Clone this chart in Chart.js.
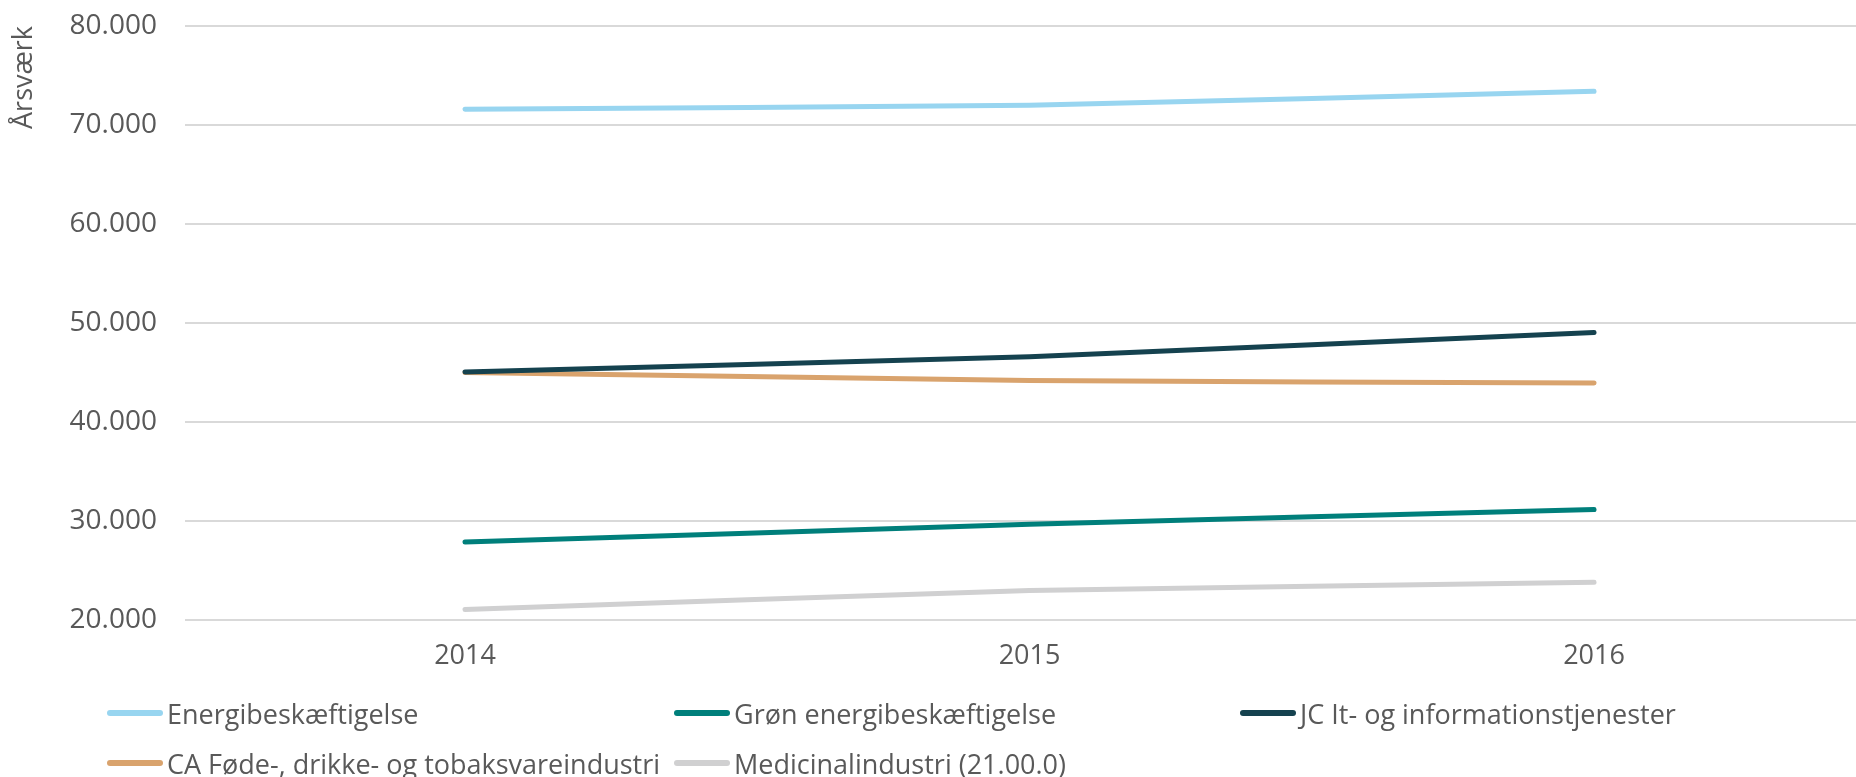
<!DOCTYPE html>
<html>
<head>
<meta charset="utf-8">
<script src="https://cdn.jsdelivr.net/npm/chart.js@4"></script>
<style>
  html, body { margin: 0; padding: 0; background: #fff; overflow: hidden; }
  #wrap { position: relative; width: 1856px; height: 777px; }
  #legend { position: absolute; left: 0; top: 0; width: 1856px; height: 777px; pointer-events: none;
            font-family: "Open Sans", sans-serif; font-size: 27px; color: #595959; }
  .item { position: absolute; display: flex; align-items: center; white-space: nowrap; }
  .item span.sw { display: inline-block; width: 56px; height: 6px; border-radius: 3px; margin-right: 4px; }
</style>
</head>
<body>
<div id="wrap">
  <canvas id="linje" width="1856" height="777"></canvas>
  <div id="legend"></div>
</div>
<script>
var years = [2014, 2015, 2016];
var yTicks = [20000, 30000, 40000, 50000, 60000, 70000, 80000];
var seriesNames = ["Energibeskæftigelse", "Grøn energibeskæftigelse", "JC It- og informationstjenester",
                   "CA Føde-, drikke- og tobaksvareindustri", "Medicinalindustri (21.00.0)"];
var energi    = [71600, 72000, 73400];
var groen     = [27870, 29660, 31160];
var itJC      = [45050, 46600, 49050];
var foedeCA   = [45000, 44200, 43930];
var medicinal = [21050, 22970, 23810];
var colors = ["#98d5f0", "#007f7b", "#15424f", "#d9a36d", "#d0d0d1"];

// legend grid: column / row of each series
var legendPos = [[107, 713], [674, 713], [1240, 713], [107, 763], [674, 763]];

function pts(vals) {
  return years.map(function (yr, i) { return { x: yr, y: vals[i] }; });
}

var allValues = [energi, groen, itJC, foedeCA, medicinal];
var datasets = seriesNames.map(function (n, i) {
  return {
    label: n,
    data: pts(allValues[i]),
    borderColor: colors[i],
    backgroundColor: colors[i],
    borderWidth: 5,
    borderCapStyle: 'round',
    pointRadius: 0,
    tension: 0.15,
    order: i === 1 ? 5 : i
  };
});

var textColor = "#595959";
var font = { family: "'Open Sans', sans-serif", size: 28 };

new Chart(document.getElementById("linje"), {
  type: 'line',
  data: { datasets: datasets },
  options: {
    responsive: false,
    animation: false,
    layout: { padding: { top: 26, right: 0, bottom: 107, left: 8 } },
    plugins: { legend: { display: false }, tooltip: { enabled: false } },
    scales: {
      x: {
        type: 'linear',
        min: 2013.504,
        max: 2016.464,
        border: { display: false },
        grid: { display: false },
        ticks: {
          color: textColor, font: { family: "'Open Sans', sans-serif", size: 27 }, padding: 12,
          callback: function (v) { return String(v); }
        },
        afterBuildTicks: function (scale) {
          scale.ticks = years.map(function (y) { return { value: y }; });
        },
        afterFit: function (scale) {
          scale.height = 50;
          scale.paddingLeft = 0; scale.paddingRight = 0;
        }
      },
      y: {
        min: 20000,
        max: 80000,
        border: { display: false },
        grid: { color: "#d9d9d9", lineWidth: 2, drawTicks: false },
        afterBuildTicks: function (scale) {
          scale.ticks = yTicks.map(function (v) { return { value: v }; });
        },
        ticks: {
          color: textColor, font: font, padding: 28,
          callback: function (v) { return v.toLocaleString('da-DK'); }
        },
        title: {
          display: true, text: "Årsværk", align: 'end',
          color: textColor, font: { family: "'Open Sans', sans-serif", size: 27 }, padding: 0
        },
        afterFit: function (scale) {
          scale.width = 177;
          scale.paddingTop = 0; scale.paddingBottom = 0;
        }
      }
    }
  }
});

var lg = document.getElementById("legend");
seriesNames.forEach(function (n, i) {
  var d = document.createElement("div");
  d.className = "item";
  d.style.left = legendPos[i][0] + "px";
  d.style.top = (legendPos[i][1] - 18) + "px";
  d.style.height = "36px";
  d.innerHTML = '<span class="sw" style="background:' + colors[i] + '"></span>' + n;
  lg.appendChild(d);
});
</script>
</body>
</html>
